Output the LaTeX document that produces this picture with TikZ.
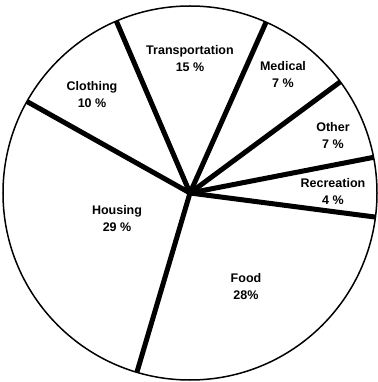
\documentclass[tikz,border=0pt]{standalone}
\usepackage{fontspec}
\setmainfont{Liberation Sans}
\usepackage{tikz}
\usetikzlibrary{positioning,calc}

\begin{document}
\begin{tikzpicture}[
    x=1pt, y=1pt,
    rim/.style={line width=1.5pt},
    spoke/.style={line width=5pt},
    slice/.style={align=center, font=\fontsize{12.5}{17}\selectfont\bfseries}
]
    \useasboundingbox (-190,-189) rectangle (187,193);
    \coordinate (O) at (0,0);
    \draw[rim] (O) circle (187);

    % borders between the slices
    \coordinate (B1) at (150.7:187);
    \coordinate (B2) at (113.2:187);
    \coordinate (B3) at (66:187);
    \coordinate (B4) at (36.5:187);
    \coordinate (B5) at (11:187);
    \coordinate (B6) at (-7.4:187);
    \coordinate (B7) at (-106.5:187);
    \fill (O) circle (3.5);
    \foreach \b in {B1,B2,B3,B4,B5,B6,B7}
        \draw[spoke] (O) -- (\b);

    \node[slice] (T) at (0,134) {Transportation\\15 \%};
    \node[slice] (M) at (93,118) {Medical\\7 \%};
    \node[slice] (C) at (-98,98) {Clothing\\10 \%};
    \node[slice] (Ot) at (143,57) {Other\\7 \%};
    \node[slice] (R) at (143,1) {Recreation\\4 \%};
    \node[slice] (H) at (-73,-26) {Housing\\29 \%};
    \node[slice] (F) at (56,-94) {Food\\28\%};

\end{tikzpicture}
\end{document}
